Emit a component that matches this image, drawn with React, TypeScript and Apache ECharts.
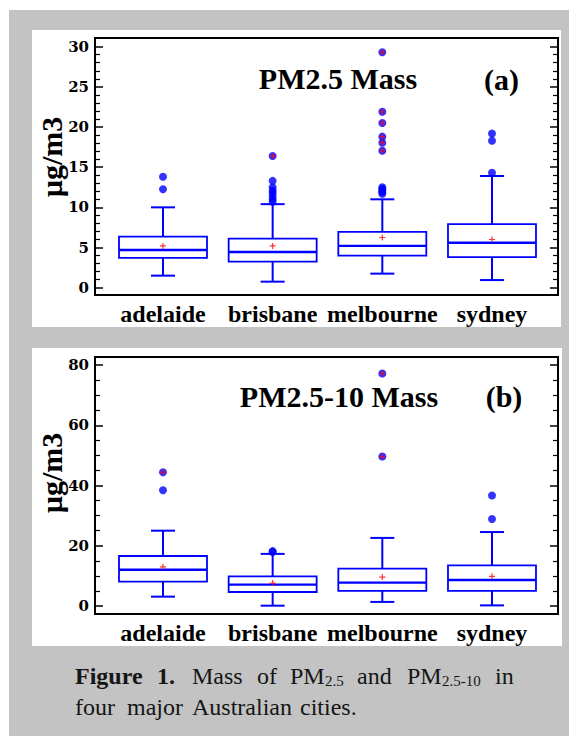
import React, { useEffect, useRef } from 'react';
import * as echarts from 'echarts';

const cities = ['adelaide', 'brisbane', 'melbourne', 'sydney'];
const cityPositions = [1, 2, 3, 4];

// Panel (a) PM2.5 mass (µg/m3)
const pm25WhiskerLow = [1.5, 0.75, 1.75, 0.95];
const pm25Q1 = [3.7, 3.25, 4.0, 3.8];
const pm25Median = [4.7, 4.45, 5.2, 5.6];
const pm25Q3 = [6.35, 6.1, 6.95, 7.9];
const pm25WhiskerHigh = [10.0, 10.4, 11.0, 13.9];
const pm25Mean = [5.2, 5.2, 6.25, 6.0];
const pm25Outliers = [
  [13.8, 12.25],
  [16.4, 13.3, 12.5, 12.1, 11.8, 11.4, 11.0, 10.7],
  [29.3, 21.9, 20.5, 18.8, 18.05, 17.05, 12.5, 12.3, 12.1, 11.9, 11.7],
  [19.2, 18.3, 14.3],
];
const pm25Extreme = [[], [16.4], [29.3, 21.9, 20.5, 18.8, 18.05, 17.05], []];
const pm25MajorTicks = [0, 5, 10, 15, 20, 25, 30];

// Panel (b) PM2.5-10 mass (µg/m3)
const pm10WhiskerLow = [3.1, 0.1, 1.35, 0.2];
const pm10Q1 = [8.1, 4.65, 5.0, 5.0];
const pm10Median = [12.05, 7.1, 7.75, 8.65];
const pm10Q3 = [16.6, 9.85, 12.4, 13.5];
const pm10WhiskerHigh = [25.0, 17.3, 22.6, 24.55];
const pm10Mean = [13.0, 7.6, 9.6, 9.85];
const pm10Outliers = [
  [44.4, 38.4],
  [18.2, 17.9],
  [77.2, 49.6],
  [36.7, 28.9],
];
const pm10Extreme = [[44.4], [], [77.2, 49.6], []];
const pm10MajorTicks = [0, 20, 40, 60, 80];

const BLUE = '#0000ff';
const RED = '#ff0000';
const PLUS = 'path://M4,0H6V4H10V6H6V10H4V6H0V4H4Z';

function minorTicks(max: number, step: number, majorStep: number) {
  const out: number[] = [];
  for (let v = step; v < max; v += step) {
    if (Math.abs(v / majorStep - Math.round(v / majorStep)) > 1e-6) out.push(v);
  }
  return out;
}

const renderBox = (params: any, api: any) => {
  const x = api.value(0);
  const pLo = api.coord([x, api.value(1)]);
  const cx = pLo[0];
  const yLo = pLo[1];
  const yQ1 = api.coord([x, api.value(2)])[1];
  const yMed = api.coord([x, api.value(3)])[1];
  const yQ3 = api.coord([x, api.value(4)])[1];
  const yHi = api.coord([x, api.value(5)])[1];
  const half = 44;
  const cap = 12;
  const ls = { stroke: BLUE, lineWidth: 2, fill: 'none' };
  return {
    type: 'group',
    children: [
      { type: 'line', shape: { x1: cx, y1: yQ3, x2: cx, y2: yHi }, style: ls },
      { type: 'line', shape: { x1: cx, y1: yLo, x2: cx, y2: yQ1 }, style: ls },
      { type: 'line', shape: { x1: cx - cap, y1: yHi, x2: cx + cap, y2: yHi }, style: ls },
      { type: 'line', shape: { x1: cx - cap, y1: yLo, x2: cx + cap, y2: yLo }, style: ls },
      { type: 'rect', shape: { x: cx - half, y: yQ3, width: 2 * half, height: yQ1 - yQ3 }, style: { stroke: BLUE, lineWidth: 1.8, fill: 'none' } },
      { type: 'line', shape: { x1: cx - half, y1: yMed, x2: cx + half, y2: yMed }, style: { stroke: BLUE, lineWidth: 2.4 } },
    ],
  };
};

function panelSeries(idx: number, low: number[], q1: number[], med: number[], q3: number[], high: number[], mean: number[], outliers: number[][], extreme: number[][]) {
  const xAxisIndex = idx;
  const yAxisIndex = idx * 4;
  return [
    {
      type: 'custom',
      xAxisIndex,
      yAxisIndex,
      data: cityPositions.map((p, i) => [p, low[i], q1[i], med[i], q3[i], high[i]]),
      encode: { x: 0, y: [1, 2, 3, 4, 5] },
      renderItem: renderBox,
      silent: true,
      z: 2,
    },
    {
      type: 'scatter',
      xAxisIndex,
      yAxisIndex,
      data: outliers.flatMap((vals, i) => vals.map((v) => [cityPositions[i], v])),
      symbol: 'circle',
      symbolSize: 8,
      itemStyle: { color: BLUE },
      silent: true,
      z: 3,
    },
    {
      type: 'scatter',
      xAxisIndex,
      yAxisIndex,
      data: cityPositions.map((p, i) => [p, mean[i]]),
      symbol: PLUS,
      symbolSize: 6,
      itemStyle: { color: RED },
      silent: true,
      z: 4,
    },
    {
      type: 'scatter',
      xAxisIndex,
      yAxisIndex,
      data: extreme.flatMap((vals, i) => vals.map((v) => [cityPositions[i], v])),
      symbol: PLUS,
      symbolSize: 6,
      itemStyle: { color: RED },
      silent: true,
      z: 5,
    },
  ];
}

function panelYAxes(grid: number, min: number, max: number, majors: number[], minors: number[]) {
  const base = {
    type: 'value',
    gridIndex: grid,
    min,
    max,
    splitLine: { show: false },
    axisLine: { show: false },
  };
  const majorTick = { show: true, inside: true, length: 8, customValues: majors, lineStyle: { color: '#000', width: 1.5 } };
  const minorTick = { show: true, inside: true, length: 5, customValues: minors, lineStyle: { color: '#000', width: 1.2 } };
  return [
    {
      ...base,
      position: 'left',
      axisTick: majorTick,
      axisLabel: {
        customValues: majors,
        fontFamily: 'DejaVu Serif',
        fontWeight: 'bold',
        fontSize: 15,
        color: '#000',
        margin: 6,
      },
    },
    { ...base, position: 'left', axisTick: minorTick, axisLabel: { show: false } },
    { ...base, position: 'right', axisTick: majorTick, axisLabel: { show: false } },
    { ...base, position: 'right', axisTick: minorTick, axisLabel: { show: false } },
  ];
}

function panelXAxis(grid: number) {
  return {
    type: 'value',
    gridIndex: grid,
    min: 0.38,
    max: 4.602,
    splitLine: { show: false },
    axisLine: { show: false },
    axisTick: { show: false },
    axisLabel: {
      customValues: cityPositions,
      formatter: (v: number) => {
        const i = cityPositions.indexOf(Math.round(v));
        return i >= 0 ? cities[i] : '';
      },
      fontFamily: 'Liberation Serif',
      fontWeight: 'bold',
      fontSize: 24,
      color: '#000',
      margin: 7,
    },
  };
}

const serifBold = 'bold 30px "Liberation Serif"';
const CAP = '24px "Liberation Serif"';
const CAP_B = 'bold 24px "Liberation Serif"';
const CAP_S = '15px "Liberation Serif"';
const capInk = '#151515';

function capText(text: string, x: number, y: number, font: string) {
  return { type: 'text', z: 50, x, y, style: { text, font, fill: capInk, textAlign: 'left', textVerticalAlign: 'middle' } };
}

export default function App() {
  const ref = useRef<HTMLDivElement>(null);
  useEffect(() => {
    document.body.style.margin = '0';
    if (!ref.current) return;
    const chart = echarts.init(ref.current, undefined, { renderer: 'svg' });
    const l1 = 676;
    const l2 = 707;
    const option: any = {
      animation: false,
      backgroundColor: '#ffffff',
      grid: [
        { left: 95, top: 38, width: 463, height: 257, show: true, borderColor: '#000', borderWidth: 2, backgroundColor: 'transparent' },
        { left: 95, top: 357, width: 463, height: 257, show: true, borderColor: '#000', borderWidth: 2, backgroundColor: 'transparent' },
      ],
      xAxis: [panelXAxis(0), panelXAxis(1)],
      yAxis: [
        ...panelYAxes(0, -0.91, 31.08, pm25MajorTicks, minorTicks(31, 1, 5)),
        ...panelYAxes(1, -2.66, 82.66, pm10MajorTicks, minorTicks(82, 5, 20)),
      ],
      series: [
        ...panelSeries(0, pm25WhiskerLow, pm25Q1, pm25Median, pm25Q3, pm25WhiskerHigh, pm25Mean, pm25Outliers, pm25Extreme),
        ...panelSeries(1, pm10WhiskerLow, pm10Q1, pm10Median, pm10Q3, pm10WhiskerHigh, pm10Mean, pm10Outliers, pm10Extreme),
      ],
      graphic: [
        { type: 'rect', z: -10, silent: true, shape: { x: 9, y: 10, width: 560, height: 726 }, style: { fill: '#c3c3c3' } },
        { type: 'rect', z: -9, silent: true, shape: { x: 32, y: 30, width: 529, height: 297 }, style: { fill: '#ffffff' } },
        { type: 'rect', z: -9, silent: true, shape: { x: 32, y: 348, width: 530, height: 298 }, style: { fill: '#ffffff' } },
        { type: 'text', z: 50, x: 338, y: 78.5, style: { text: 'PM2.5 Mass', font: serifBold, fill: '#000', textAlign: 'center', textVerticalAlign: 'middle' } },
        { type: 'text', z: 50, x: 501.5, y: 79, style: { text: '(a)', font: serifBold, fill: '#000', textAlign: 'center', textVerticalAlign: 'middle' } },
        { type: 'text', z: 50, x: 339, y: 396.5, style: { text: 'PM2.5-10 Mass', font: serifBold, fill: '#000', textAlign: 'center', textVerticalAlign: 'middle' } },
        { type: 'text', z: 50, x: 504, y: 396.5, style: { text: '(b)', font: serifBold, fill: '#000', textAlign: 'center', textVerticalAlign: 'middle' } },
        { type: 'text', z: 50, x: 51, y: 157, rotation: Math.PI / 2, style: { text: 'µg/m3', font: serifBold, fill: '#000', textAlign: 'center', textVerticalAlign: 'middle' } },
        { type: 'text', z: 50, x: 51, y: 473, rotation: Math.PI / 2, style: { text: 'µg/m3', font: serifBold, fill: '#000', textAlign: 'center', textVerticalAlign: 'middle' } },
        // caption, line 1 (justified)
        capText('Figure', 75, l1, CAP_B),
        capText('1.', 157, l1, CAP_B),
        capText('Mass', 192, l1, CAP),
        capText('of', 257, l1, CAP),
        capText('PM', 290, l1, CAP),
        capText('2.5', 325, l1 + 5, CAP_S),
        capText('and', 357, l1, CAP),
        capText('PM', 407, l1, CAP),
        capText('2.5-10', 442, l1 + 5, CAP_S),
        capText('in', 495, l1, CAP),
        // caption, line 2
        capText('four', 75, l2, CAP),
        capText('major', 127, l2, CAP),
        capText('Australian', 192, l2, CAP),
        capText('cities.', 300, l2, CAP),
      ],
    };
    chart.setOption(option);
    return () => chart.dispose();
  }, []);
  return <div ref={ref} style={{ width: 569, height: 736 }} />;
}
